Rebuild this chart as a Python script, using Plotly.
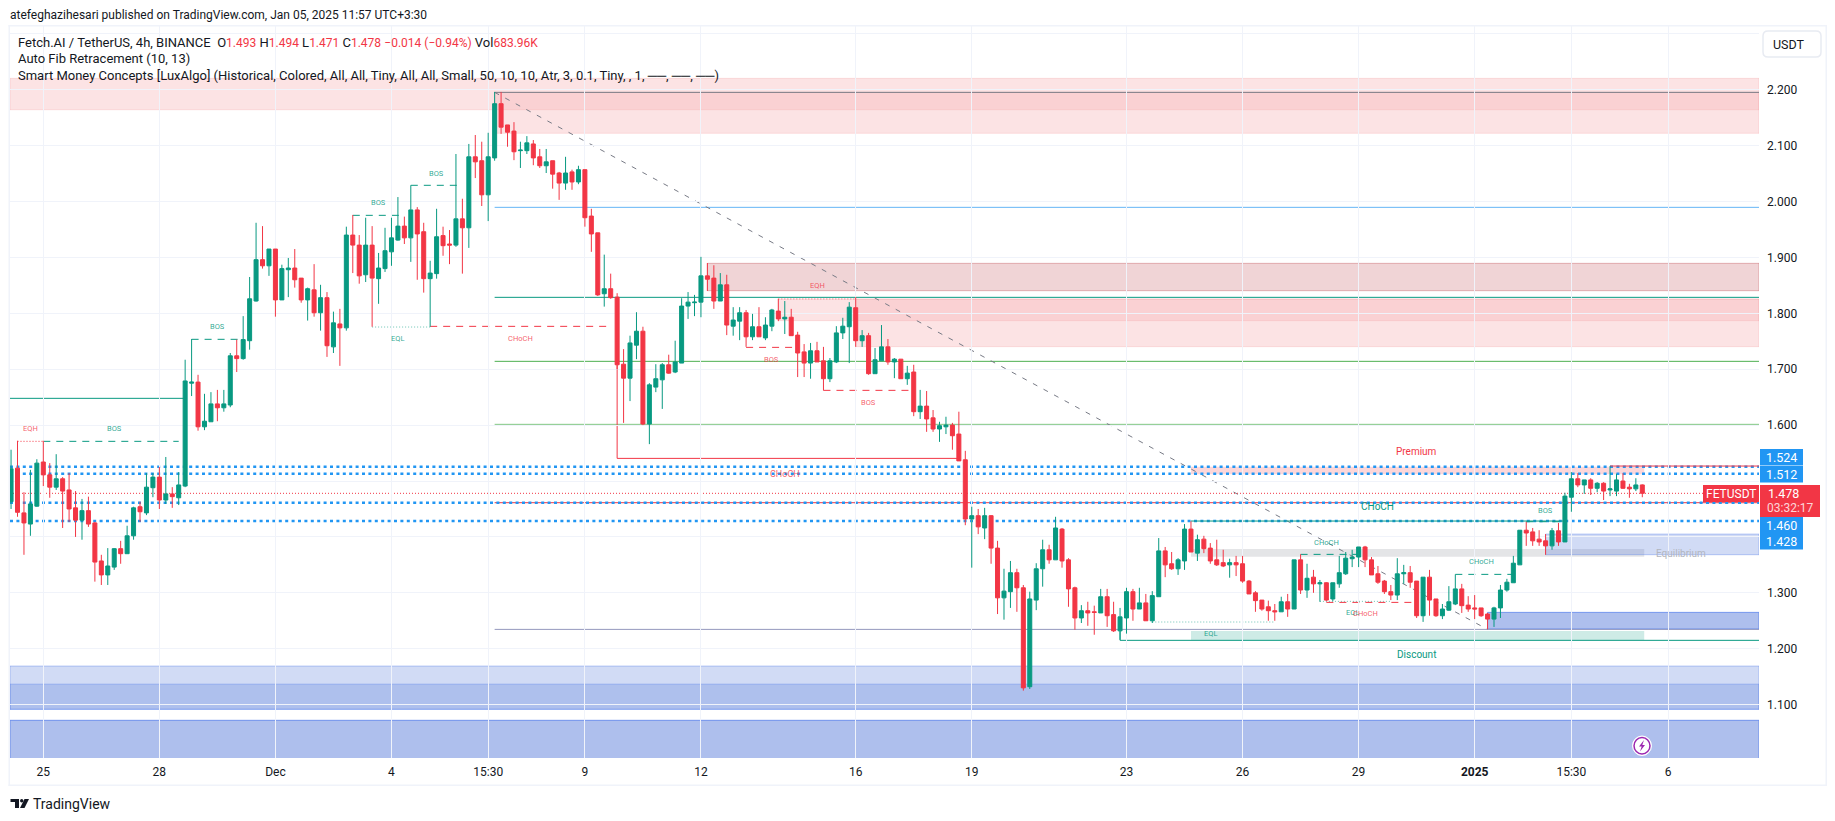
import pandas as pd
import plotly.graph_objects as go

# --- candle data (Fetch.AI / TetherUS, 4h) ---
FIRST_BAR = "2024-11-24 07:30"
OPEN = [1.463,1.523,1.443,1.423,1.455,1.534,1.511,1.489,1.504,1.484,1.452,1.430,1.447,1.425,1.357,1.332,1.346,1.379,1.370,1.402,1.454,1.443,1.488,1.507,1.466,1.477,1.470,
1.491,1.675,1.677,1.597,1.606,1.638,1.631,1.636,1.724,1.719,1.751,1.822,1.896,1.885,1.915,1.824,1.878,1.881,1.863,1.824,1.842,1.801,1.828,1.740,1.781,1.774,1.940,1.922,1.869,1.922,1.862,1.880,1.910,1.931,1.956,1.935,1.985,1.946,1.862,1.871,1.939,1.924,1.922,1.969,1.953,2.080,2.073,2.012,2.078,
2.175,2.137,2.126,2.091,2.091,2.103,2.080,2.064,2.073,2.051,2.033,2.053,2.035,2.057,1.974,1.944,1.835,1.844,1.829,1.709,1.684,1.743,1.768,1.602,1.668,1.681,1.708,1.695,1.711,1.813,1.819,1.820,1.867,1.863,1.822,1.851,1.777,1.786,1.801,1.758,1.776,1.756,1.777,1.804,1.790,1.793,1.761,1.731,1.711,1.733,1.715,1.683,1.713,1.765,1.776,1.810,1.751,1.760,1.692,1.715,1.740,1.713,1.718,1.683,1.695,1.624,1.634,1.613,1.593,1.597,1.600,1.584,
1.538,1.432,1.438,1.416,1.438,1.380,1.291,1.302,1.336,1.309,1.132,1.287,1.343,1.377,1.359,1.414,1.359,1.309,1.255,1.268,1.266,1.264,1.293,1.261,1.232,1.255,1.302,1.271,1.282,1.250,1.293,1.375,1.352,1.343,1.357,1.414,1.371,1.396,1.380,1.359,1.354,1.350,1.354,1.352,1.321,1.300,1.287,1.275,1.268,1.266,1.284,1.271,
1.359,1.305,1.328,1.316,1.318,1.289,1.316,1.334,1.361,1.364,1.382,1.359,1.334,1.321,1.302,1.296,1.334,1.336,1.321,1.259,1.328,1.289,1.259,1.269,1.280,1.307,1.278,1.273,1.273,1.262,1.253,1.273,1.305,1.318,1.350,1.412,1.409,1.396,1.393,1.384,1.411,1.391,1.471,1.504,1.493,1.502,1.487,1.496,1.484,1.482,1.500,1.489,1.486,1.493]
HIGH = [1.556,1.572,1.480,1.520,1.539,1.572,1.532,1.548,1.507,1.514,1.482,1.468,1.472,1.427,1.368,1.380,1.380,1.393,1.420,1.454,1.463,1.514,1.514,1.525,1.543,1.489,1.516,
1.717,1.754,1.690,1.656,1.659,1.663,1.663,1.729,1.753,1.795,1.865,1.962,1.956,1.915,1.915,1.887,1.899,1.915,1.863,1.846,1.888,1.851,1.838,1.803,1.808,1.955,1.976,1.940,1.971,1.956,1.908,1.953,1.971,2.008,1.973,2.029,1.990,1.962,1.894,1.987,1.955,1.949,2.085,2.005,2.103,2.119,2.107,2.123,2.196,
2.196,2.137,2.142,2.107,2.117,2.110,2.094,2.094,2.073,2.053,2.080,2.057,2.064,2.057,1.987,1.944,1.905,1.871,1.836,1.736,1.760,1.802,1.776,1.675,1.709,1.711,1.726,1.751,1.827,1.838,1.833,1.901,1.890,1.886,1.872,1.869,1.811,1.811,1.806,1.799,1.811,1.793,1.808,1.826,1.822,1.808,1.767,1.745,1.747,1.749,1.740,1.720,1.777,1.792,1.820,1.829,1.770,1.765,1.738,1.779,1.754,1.720,1.718,1.706,1.708,1.663,1.661,1.627,1.606,1.615,1.604,1.624,
1.554,1.454,1.450,1.452,1.439,1.393,1.343,1.357,1.343,1.314,1.302,1.353,1.395,1.386,1.436,1.416,1.362,1.311,1.278,1.284,1.277,1.307,1.307,1.284,1.273,1.309,1.307,1.309,1.298,1.303,1.398,1.382,1.373,1.362,1.423,1.428,1.404,1.402,1.389,1.395,1.377,1.361,1.366,1.366,1.323,1.303,1.287,1.286,1.280,1.293,1.298,1.359,
1.369,1.352,1.341,1.323,1.319,1.318,1.366,1.373,1.377,1.382,1.384,1.364,1.348,1.323,1.314,1.362,1.350,1.348,1.321,1.328,1.341,1.289,1.280,1.312,1.333,1.316,1.294,1.296,1.273,1.264,1.275,1.314,1.325,1.366,1.412,1.427,1.416,1.412,1.405,1.416,1.425,1.479,1.516,1.514,1.502,1.505,1.498,1.498,1.527,1.513,1.514,1.495,1.505,1.494]
LOW = [1.450,1.436,1.368,1.402,1.454,1.491,1.470,1.484,1.416,1.427,1.400,1.395,1.418,1.320,1.314,1.314,1.341,1.352,1.370,1.395,1.427,1.439,1.471,1.450,1.459,1.452,1.457,
1.489,1.652,1.590,1.591,1.606,1.607,1.624,1.632,1.695,1.717,1.735,1.821,1.880,1.867,1.794,1.824,1.829,1.846,1.819,1.787,1.794,1.769,1.722,1.729,1.706,1.769,1.872,1.853,1.856,1.776,1.817,1.874,1.885,1.930,1.924,1.892,1.860,1.837,1.776,1.862,1.903,1.888,1.919,1.871,1.917,2.042,1.992,1.965,2.073,
2.121,2.098,2.074,2.060,2.085,2.065,2.060,2.051,2.023,2.003,2.021,2.021,2.031,1.955,1.910,1.831,1.812,1.826,1.699,1.604,1.643,1.718,1.600,1.566,1.659,1.629,1.692,1.693,1.711,1.790,1.795,1.793,1.840,1.808,1.822,1.761,1.760,1.752,1.740,1.752,1.758,1.752,1.768,1.786,1.763,1.760,1.686,1.686,1.683,1.713,1.662,1.677,1.711,1.754,1.711,1.740,1.740,1.690,1.692,1.715,1.708,1.684,1.683,1.672,1.616,1.611,1.588,1.588,1.570,1.584,1.556,1.536,
1.421,1.345,1.405,1.396,1.352,1.262,1.252,1.273,1.266,1.125,1.128,1.269,1.311,1.352,1.359,1.345,1.275,1.234,1.246,1.241,1.225,1.264,1.239,1.230,1.216,1.227,1.250,1.271,1.250,1.246,1.293,1.328,1.341,1.332,1.341,1.373,1.357,1.371,1.352,1.348,1.346,1.327,1.330,1.318,1.298,1.266,1.268,1.250,1.250,1.266,1.257,1.271,
1.298,1.291,1.300,1.284,1.285,1.285,1.309,1.332,1.346,1.346,1.346,1.332,1.316,1.298,1.287,1.287,1.316,1.309,1.255,1.248,1.259,1.257,1.253,1.268,1.278,1.264,1.266,1.253,1.257,1.235,1.239,1.255,1.302,1.318,1.350,1.384,1.384,1.384,1.368,1.377,1.384,1.391,1.445,1.489,1.477,1.475,1.480,1.466,1.473,1.473,1.486,1.470,1.482,1.471]
CLOSE = [1.522,1.444,1.425,1.459,1.532,1.511,1.489,1.504,1.482,1.450,1.430,1.447,1.423,1.355,1.332,1.348,1.379,1.370,1.402,1.452,1.445,1.489,1.507,1.466,1.477,1.472,1.493,
1.679,1.677,1.597,1.607,1.638,1.631,1.638,1.724,1.719,1.753,1.826,1.896,1.885,1.915,1.824,1.880,1.881,1.860,1.824,1.844,1.801,1.828,1.742,1.783,1.774,1.940,1.922,1.867,1.922,1.863,1.881,1.912,1.935,1.956,1.935,1.985,1.942,1.862,1.872,1.937,1.921,1.922,1.969,1.953,2.080,2.071,2.012,2.080,2.175,
2.133,2.124,2.089,2.092,2.105,2.078,2.064,2.071,2.049,2.033,2.051,2.035,2.057,1.971,1.942,1.833,1.844,1.828,1.708,1.684,1.747,1.768,1.602,1.672,1.683,1.708,1.693,1.713,1.813,1.820,1.820,1.867,1.861,1.822,1.851,1.779,1.788,1.801,1.758,1.776,1.758,1.779,1.806,1.790,1.793,1.760,1.729,1.711,1.733,1.713,1.683,1.715,1.765,1.777,1.811,1.751,1.760,1.692,1.717,1.740,1.713,1.718,1.683,1.693,1.624,1.634,1.611,1.593,1.599,1.600,1.581,1.536,
1.432,1.438,1.418,1.438,1.380,1.291,1.303,1.336,1.309,1.130,1.289,1.343,1.377,1.359,1.416,1.357,1.307,1.255,1.268,1.264,1.265,1.293,1.259,1.232,1.257,1.302,1.271,1.282,1.250,1.295,1.375,1.350,1.343,1.359,1.414,1.373,1.395,1.379,1.357,1.350,1.348,1.354,1.350,1.321,1.298,1.286,1.271,1.268,1.266,1.284,1.271,1.359,
1.305,1.326,1.316,1.318,1.287,1.318,1.336,1.362,1.364,1.382,1.359,1.332,1.319,1.302,1.296,1.334,1.336,1.319,1.259,1.328,1.287,1.259,1.271,1.284,1.307,1.277,1.271,1.271,1.259,1.253,1.273,1.305,1.319,1.353,1.412,1.407,1.393,1.391,1.384,1.411,1.391,1.473,1.504,1.493,1.502,1.487,1.496,1.482,1.486,1.502,1.487,1.486,1.493,1.478]

# --- axis ticks ---
PRICE_TICKS = [1.1,1.2,1.3,1.6,1.7,1.8,1.9,2.0,2.1,2.2,2.3,1.4,1.5]
PRICE_LABELS = ["1.100","1.200","1.300","1.600","1.700","1.800","1.900","2.000","2.100","2.200","","",""]
TIME_TICKS = ["2024-11-25 03:30","2024-11-28 03:30","2024-12-01 03:30","2024-12-04 03:30","2024-12-06 15:30","2024-12-09 03:30","2024-12-12 03:30","2024-12-16 03:30","2024-12-19 03:30","2024-12-23 03:30","2024-12-26 03:30","2024-12-29 03:30","2025-01-01 03:30","2025-01-03 15:30","2025-01-06 03:30"]
TIME_LABELS = ["25","28","Dec","4","15:30","9","12","16","19","23","26","29","<b>2025</b>","15:30","6"]

# --- overlays: bar number (0 = 25 Nov 03:30), price ---
XL, XR = -5.165, 266.1
RED, TEAL, BLUE = "#F23645", "#089981", "#2196F3"
PINK = "rgba(248,177,180,0.36)"
PINK_EDGE = "rgba(242,54,69,0.12)"
ROSE = "rgba(178,40,51,0.2)"
BLUE1 = "rgba(70,110,215,0.25)"
BLUE2 = "rgba(70,110,215,0.4375)"
ZONES = [
    (XL, XR, 2.1642, 2.2204, PINK, PINK_EDGE),
    (70, XR, 2.122, 2.1953, PINK, PINK_EDGE),
    (103, XR, 1.8405, 1.8894, ROSE, "rgba(178,40,51,0.3)"),
    (114, XR, 1.7868, 1.8256, PINK, PINK_EDGE),
    (126, XR, 1.7403, 1.8256, PINK, PINK_EDGE),
    (178, 248.3, 1.512, 1.5256, "rgba(242,54,69,0.2)", "rgba(0,0,0,0)"),
    (178, 248.3, 1.3646, 1.3783, "rgba(120,123,134,0.2)", "rgba(0,0,0,0)"),
    (178, 248.3, 1.2155, 1.2316, "rgba(8,153,129,0.2)", "rgba(0,0,0,0)"),
    (XL, XR, 1.0916, 1.169, BLUE1, "rgba(90,130,235,0.4)"),
    (XL, XR, 1.0916, 1.1366, BLUE1, "rgba(90,130,235,0.4)"),
    (XL, XR, 1.0, 1.0719, BLUE2, "rgba(90,130,235,0.8)"),
    (224, XR, 1.2352, 1.265, BLUE2, "rgba(90,130,235,0.8)"),
    (233, XR, 1.3682, 1.4051, BLUE1, "rgba(90,130,235,0.4)"),
]
# start bar, end bar, start price, end price, colour, width, dash
DOT3 = "3px,3.4px"
DOT1 = "1px,2px"
DASH = "7px,6px"
SOLID = "solid"
LINES = [
    (70, XR, 2.1953, 2.1953, "#787B86", 1, SOLID),
    (70, XR, 1.9896, 1.9896, "#64B5F6", 1, SOLID),
    (70, XR, 1.8286, 1.8286, TEAL, 1, SOLID),
    (70, XR, 1.7141, 1.7141, "#4CAF50", 1, SOLID),
    (70, XR, 1.6014, 1.6014, "#81C784", 1, SOLID),
    (70, XR, 1.4612, 1.4612, RED, 1, SOLID),
    (70, XR, 1.2346, 1.2346, "#9598BE", 1, SOLID),
    (70, 224, 2.1953, 1.2346, "#787B86", 1, "5px,7px"),
    (XL, XR, 1.5256, 1.5256, BLUE, 2.5, DOT3),
    (XL, XR, 1.513, 1.513, BLUE, 2.5, DOT3),
    (XL, XR, 1.4612, 1.4612, BLUE, 2.5, DOT3),
    (XL, XR, 1.4284, 1.4284, BLUE, 2.5, DOT3),
    (XL, XR, 1.478, 1.478, RED, 1, DOT1),
    (XL, 22, 1.6479, 1.6479, TEAL, 1, SOLID),
    (-4, 0, 1.571, 1.571, RED, 1, DOT1),
    (0, 21, 1.571, 1.571, TEAL, 1, DASH),
    (23, 31, 1.7535, 1.7535, TEAL, 1, DASH),
    (48, 56, 1.9753, 1.9753, TEAL, 1, DASH),
    (57, 65, 2.029, 2.029, TEAL, 1, DASH),
    (51, 60, 1.7755, 1.7755, "#6CC4B4", 1, DOT1),
    (60, 88, 1.7767, 1.7767, RED, 1, DASH),
    (109, 117, 1.7391, 1.7391, RED, 1, DASH),
    (121, 135, 1.6622, 1.6622, RED, 1, DASH),
    (114, 126, 1.8256, 1.8256, "#F9A5AB", 2, DOT1),
    (89, 89, 1.7076, 1.5405, RED, 1, SOLID),
    (89, 142, 1.5405, 1.5405, RED, 1, SOLID),
    (178, 236, 1.4284, 1.4284, TEAL, 1, SOLID),
    (167, 167, 1.2319, 1.215, TEAL, 1, SOLID),
    (167, XR, 1.215, 1.215, TEAL, 1, SOLID),
    (172, 191, 1.2478, 1.2478, "#6CC4B4", 1, DOT1),
    (195, 204, 1.3688, 1.3688, TEAL, 1, DASH),
    (198, 209, 1.2847, 1.2847, "#6CC4B4", 1, DOT1),
    (199, 213, 1.2829, 1.2829, RED, 1, DASH),
    (219, 228, 1.333, 1.333, TEAL, 1, DASH),
    (230, 236, 1.4272, 1.4272, TEAL, 1, DASH),
    (243, XR, 1.5268, 1.5268, RED, 1, SOLID),
]
LABEL_TEAL = "rgba(8,153,129,0.85)"
LABEL_RED = "rgba(242,54,69,0.8)"
# text, bar, price, colour, size
LABELS = [
    ("EQH", -2, 1.5936, LABEL_RED, 7.5), ("BOS", 11, 1.5936, LABEL_TEAL, 7.5),
    ("BOS", 27, 1.776, LABEL_TEAL, 7.5), ("BOS", 52, 1.9986, LABEL_TEAL, 7.5),
    ("BOS", 61, 2.0504, LABEL_TEAL, 7.5), ("EQL", 55, 1.7546, LABEL_TEAL, 7.5),
    ("CHoCH", 74, 1.7546, LABEL_RED, 7.5), ("BOS", 113, 1.7178, LABEL_RED, 7.5),
    ("BOS", 128, 1.6408, LABEL_RED, 7.5), ("EQH", 120, 1.85, LABEL_RED, 7.5),
    ("CHoCH", 115, 1.5125, LABEL_RED, 9), ("EQL", 181, 1.2268, LABEL_TEAL, 7.5),
    ("CHoCH", 199, 1.3897, LABEL_TEAL, 7.5), ("EQL", 203, 1.2644, LABEL_TEAL, 7.5),
    ("CHoCH", 205, 1.2633, LABEL_RED, 7.5), ("CHoCH", 223, 1.3557, LABEL_TEAL, 7.5),
    ("BOS", 233, 1.4476, LABEL_TEAL, 7.5), ("CHoCH", 207, 1.4546, TEAL, 10),
    ("Premium", 213, 1.5524, RED, 10), ("Discount", 213, 1.1893, TEAL, 10),
    ("Equilibrium", 254, 1.3699, "#B2B5BE", 10),
]
# blue price tags: text, top pixel row of the tag
TAGS = [("1.524", 449), ("1.512", 466), ("1.460", 517), ("1.428", 533)]

# --- pixel helpers for the frame outside of the plot ---
W, H = 1835, 821
L, R, T, B = 10, 1759, 26, 758
px = lambda x: (x - L) / (R - L)
py = lambda y: 1 - (y - T) / (B - T)
times = pd.date_range(FIRST_BAR, periods=len(OPEN), freq="4h")
t0 = pd.Timestamp("2024-11-25 03:30")
def tk(k):
    return t0 + pd.Timedelta(hours=4 * k)

fig = go.Figure(go.Candlestick(
    x=times, open=OPEN, high=HIGH, low=LOW, close=CLOSE, whiskerwidth=0,
    increasing=dict(line=dict(color=TEAL, width=1), fillcolor=TEAL),
    decreasing=dict(line=dict(color=RED, width=1), fillcolor=RED),
    hoverinfo="skip", showlegend=False))

shapes = []
for a, b, lo, hi, fill, edge in ZONES:
    shapes.append(dict(type="rect", xref="x", yref="y", x0=tk(a), x1=tk(b), y0=lo, y1=hi,
                       fillcolor=fill, line=dict(color=edge, width=1), layer="below"))
for a, b, p0, p1, col, wd, dash in LINES:
    shapes.append(dict(type="line", xref="x", yref="y", x0=tk(a), x1=tk(b), y0=p0, y1=p1,
                       line=dict(color=col, width=wd, dash=dash), layer="below"))

def prect(x0, y0, x1, y1, fill, line=None, lw=0):
    return dict(type="rect", xref="paper", yref="paper", x0=px(x0), x1=px(x1), y0=py(y0), y1=py(y1),
                fillcolor=fill, line=dict(color=line or fill, width=lw), layer="above")
def ppath(points, fill):
    d = "M " + " L ".join(f"{px(x):.5f} {py(y):.5f}" for x, y in points) + " Z"
    return dict(type="path", xref="paper", yref="paper", path=d, fillcolor=fill, line=dict(width=0), layer="above")

# outer frame
FRAME = "#F0F3FA"
shapes += [prect(8.5, 25, 10, 786, FRAME), prect(8.5, 25, 1827, 26.5, FRAME),
           prect(1825.5, 25, 1827, 786, FRAME), prect(8.5, 784.5, 1827, 786, FRAME)]
# price tags
for _, top in TAGS:
    shapes.append(prect(1760, top, 1803, top + 16.5, BLUE))
shapes += [prect(1703, 485, 1759, 502, RED), prect(1760, 485, 1820, 517, RED)]
# USDT button (rounded)
bx0, bx1, by0, by1, rad = 1763, 1821, 31, 57, 5
btn = (f"M {px(bx0+rad)} {py(by0)} L {px(bx1-rad)} {py(by0)} Q {px(bx1)} {py(by0)} {px(bx1)} {py(by0+rad)} "
       f"L {px(bx1)} {py(by1-rad)} Q {px(bx1)} {py(by1)} {px(bx1-rad)} {py(by1)} "
       f"L {px(bx0+rad)} {py(by1)} Q {px(bx0)} {py(by1)} {px(bx0)} {py(by1-rad)} "
       f"L {px(bx0)} {py(by0+rad)} Q {px(bx0)} {py(by0)} {px(bx0+rad)} {py(by0)} Z")
shapes.append(dict(type="path", xref="paper", yref="paper", path=btn, fillcolor="white",
                   line=dict(color="#E8EBF2", width=1.5), layer="above"))
# lightning badge
shapes.append(dict(type="circle", xref="paper", yref="paper", x0=px(1632.5), x1=px(1651.5), y0=py(736), y1=py(755.5),
                   fillcolor="white", line=dict(color="white", width=1), layer="above"))
shapes.append(dict(type="circle", xref="paper", yref="paper", x0=px(1634), x1=px(1650), y0=py(737.5), y1=py(754),
                   fillcolor="white", line=dict(color="#9C27B0", width=1.5), layer="above"))
shapes.append(ppath([(1644, 740), (1639, 746.5), (1641.7, 746.5), (1640, 751.5), (1645, 745), (1642.3, 745)], "#9C27B0"))
# TradingView mark
shapes.append(ppath([(10.5, 799), (19, 799), (19, 808), (15, 808), (15, 802), (10.5, 802)], "#131722"))
shapes.append(dict(type="circle", xref="paper", yref="paper", x0=px(20), x1=px(23.4), y0=py(799), y1=py(802.4),
                   fillcolor="#131722", line=dict(width=0), layer="above"))
shapes.append(ppath([(24.5, 799), (29, 799), (24.5, 808), (20, 808)], "#131722"))

FONT = "Roboto"
ann = []
for text, k, p, col, size in LABELS:
    ann.append(dict(xref="x", yref="y", x=tk(k), y=p, text=text, showarrow=False,
                    font=dict(family=FONT, size=size, color=col), xanchor="center", yanchor="middle"))
def ptext(x, y, text, size=13, color="#131722", anchor="left"):
    ann.append(dict(xref="paper", yref="paper", x=px(x), y=py(y), text=text, showarrow=False,
                    font=dict(family=FONT, size=size, color=color), xanchor=anchor, yanchor="middle",
                    align=anchor, borderpad=0, borderwidth=0))
for text, top in TAGS:
    ptext(1781.5, top + 8.5, text, 12.5, "white", "center")
ptext(1731, 493.5, "FETUSDT", 12, "white", "center")
ptext(1768, 493.5, "1.478", 12.5, "white")
ptext(1767, 508, "03:32:17", 12, "rgba(255,255,255,0.8)")
ptext(1772.5, 44, "USDT", 12.5)
ptext(10, 15, "atefeghazihesari published on TradingView.com, Jan 05, 2025 11:57 UTC+3:30", 12)
r = lambda s: f'<span style="color:{RED};font-size:12px">{s}</span>'
ptext(18, 42, f"Fetch.AI / TetherUS, 4h, BINANCE  O{r('1.493')} H{r('1.494')} L{r('1.471')} C{r('1.478')} {r('−0.014 (−0.94%)')} Vol{r('683.96K')}", 13)
ptext(18, 59, "Auto Fib Retracement (10, 13)", 13)
ptext(18, 76, "Smart Money Concepts [LuxAlgo] (Historical, Colored, All, All, Tiny, All, All, Small, 50, 10, 10, Atr, 3, 0.1, Tiny, , 1, ──, ──, ──)", 13)
ptext(33, 804, "TradingView", 14)

fig.update_layout(
    width=W, height=H, autosize=False,
    margin=dict(l=L, r=W - R, t=T, b=H - B, pad=0),
    paper_bgcolor="white", plot_bgcolor="white",
    boxgap=0.38, boxgroupgap=0, showlegend=False,
    shapes=shapes, annotations=ann,
    font=dict(family=FONT, size=12, color="#131722"),
    xaxis=dict(type="date", range=[tk(XL), tk(XR)], rangeslider=dict(visible=False),
               tickmode="array", tickvals=TIME_TICKS, ticktext=TIME_LABELS, tickangle=0,
               showgrid=True, gridcolor="#F0F3FA", gridwidth=1, zeroline=False, showline=False,
               ticks="", ticklabelstandoff=5),
    yaxis=dict(side="right", range=[1.0045, 2.314], tickmode="array", tickvals=PRICE_TICKS,
               ticktext=PRICE_LABELS, showgrid=True, gridcolor="#F0F3FA", gridwidth=1,
               zeroline=False, showline=False, ticks="", ticklabelstandoff=7),
)
fig.write_html("out.html", config=dict(displayModeBar=False),
               post_script="document.body.style.margin='0';document.body.style.overflow='hidden';")
